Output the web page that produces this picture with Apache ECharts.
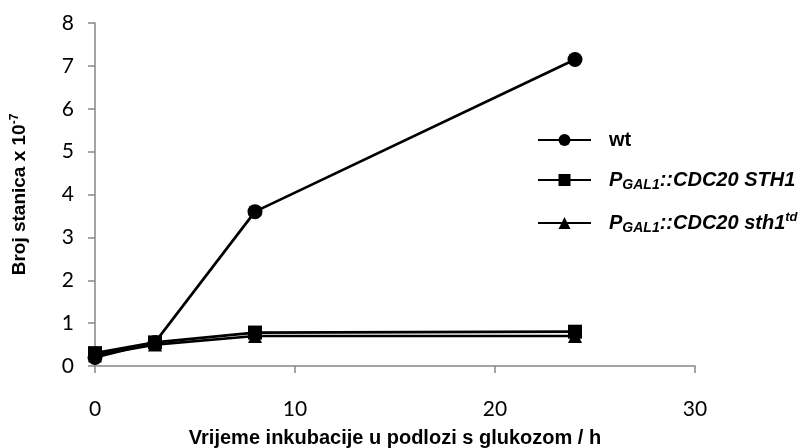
<!DOCTYPE html>
<html>
<head>
<meta charset="utf-8">
<script src="https://cdn.jsdelivr.net/npm/echarts@6/dist/echarts.min.js"></script>
<style>
  html, body { margin: 0; padding: 0; background: #fff; }
  #chart { width: 811px; height: 448px; }
</style>
</head>
<body>
<div id="chart"></div>
<script>
// Incubation time in glucose medium (h)
const hours = [0, 3, 8, 24];

// Cell counts (x 10^-7) for each strain
const wtCounts = [0.2, 0.55, 3.6, 7.15];
const sth1Counts = [0.3, 0.55, 0.78, 0.8];
const sth1tdCounts = [0.25, 0.5, 0.7, 0.7];

const seriesNames = ['wt', 'PGAL1::CDC20 STH1', 'PGAL1::CDC20 sth1td'];
const legendRich = {
  'wt': '{n|wt}',
  'PGAL1::CDC20 STH1': '{i|P}{sub|GAL1}{i|::CDC20 STH1}',
  'PGAL1::CDC20 sth1td': '{i|P}{sub|GAL1}{i|::CDC20 sth1}{sup|td}'
};

const xTitle = 'Vrijeme inkubacije u podlozi s glukozom / h';
const yTitleMain = 'Broj stanica x 10';
const yTitleExp = '-7';

const axisGray = '#868686';
const tickFont = 'Lato, "Open Sans", sans-serif';
const boldFont = '"Liberation Sans", Arial, sans-serif';

function makeSeries(name, values, symbol, size) {
  return {
    name: name,
    type: 'line',
    data: hours.map((h, i) => [h, values[i]]),
    symbol: symbol,
    symbolSize: size,
    showSymbol: true,
    lineStyle: { color: '#000', width: 2.7 },
    itemStyle: { color: '#000', borderWidth: 0 },
    animation: false
  };
}

const chart = echarts.init(document.getElementById('chart'));
chart.setOption({
  animation: false,
  grid: { left: 95, right: 116, top: 23, bottom: 82, containLabel: false, outerBoundsMode: 'none' },
  legend: {
    orient: 'vertical',
    left: 537,
    top: 130,
    padding: 0,
    itemWidth: 53,
    itemHeight: 15,
    itemGap: 19,
    data: seriesNames,
    formatter: name => legendRich[name],
    textStyle: {
      fontFamily: boldFont,
      fontSize: 20,
      fontWeight: 'bold',
      color: '#000',
      padding: [0, 0, 0, 13],
      rich: {
        n: { fontFamily: boldFont, fontSize: 20, fontWeight: 'bold', color: '#000', lineHeight: 24 },
        i: { fontFamily: boldFont, fontSize: 20, fontWeight: 'bold', fontStyle: 'italic', color: '#000', lineHeight: 24 },
        sub: { fontFamily: boldFont, fontSize: 14, fontWeight: 'bold', fontStyle: 'italic', color: '#000', verticalAlign: 'bottom', lineHeight: 24, padding: [9, 0, 0, 0] },
        sup: { fontFamily: boldFont, fontSize: 13, fontWeight: 'bold', fontStyle: 'italic', color: '#000', verticalAlign: 'top', lineHeight: 24, padding: [0, 0, 8, 0] }
      }
    }
  },
  xAxis: {
    type: 'value',
    min: 0,
    max: 30,
    interval: 10,
    splitLine: { show: false },
    axisLine: { lineStyle: { color: axisGray, width: 1.5 } },
    axisTick: { show: true, length: 7, lineStyle: { color: axisGray, width: 1.5 } },
    axisLabel: { fontFamily: tickFont, fontSize: 21, color: '#000', margin: 33 },
    name: xTitle,
    nameLocation: 'middle',
    nameGap: 62,
    nameTextStyle: { fontFamily: boldFont, fontSize: 20, fontWeight: 'bold', color: '#000' }
  },
  yAxis: {
    type: 'value',
    min: 0,
    max: 8,
    interval: 1,
    splitLine: { show: false },
    axisLine: { show: true, lineStyle: { color: axisGray, width: 1.5 } },
    axisTick: { show: true, length: 7, lineStyle: { color: axisGray, width: 1.5 } },
    axisLabel: { fontFamily: tickFont, fontSize: 21, color: '#000', margin: 21 },
    name: '{t|' + yTitleMain + '}{e|' + yTitleExp + '}',
    nameLocation: 'middle',
    nameGap: 64,
    nameRotate: 90,
    nameTextStyle: {
      rich: {
        t: { fontFamily: boldFont, fontSize: 19, fontWeight: 'bold', color: '#000', lineHeight: 22 },
        e: { fontFamily: boldFont, fontSize: 12, fontWeight: 'bold', color: '#000', verticalAlign: 'top', lineHeight: 22, padding: [0, 0, 7, 0] }
      }
    }
  },
  series: [
    makeSeries(seriesNames[0], wtCounts, 'circle', 15),
    makeSeries(seriesNames[1], sth1Counts, 'rect', 14),
    makeSeries(seriesNames[2], sth1tdCounts, 'triangle', 14)
  ]
});
</script>
</body>
</html>
